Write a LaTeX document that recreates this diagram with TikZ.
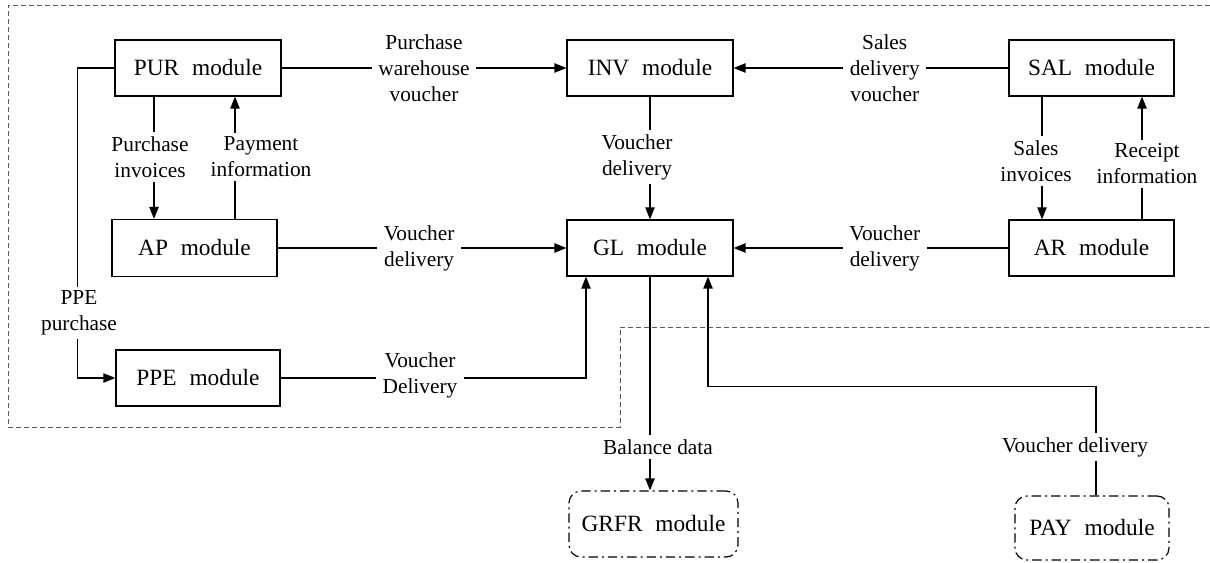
\documentclass[tikz,border=0pt]{standalone}
\usepackage{fontspec}
\setmainfont{Liberation Serif}
\usetikzlibrary{arrows.meta,calc}
\begin{document}
\begin{tikzpicture}[x=0.75pt,y=-0.75pt,
  mod/.style={draw, line width=0.9pt, minimum width=124.5pt, minimum height=42pt, inner sep=0pt, font=\fontsize{17.5}{20}\selectfont},
  ext/.style={draw, line width=0.9pt, rounded corners=9pt, dash pattern=on 7pt off 3pt on 1.5pt off 3pt, inner sep=0pt, font=\fontsize{17.5}{20}\selectfont},
  lbl/.style={fill=white, align=center, inner xsep=5pt, inner ysep=3pt, font=\fontsize{16}{19.5}\selectfont},
  conn/.style={line width=1pt},
  arr/.style={conn, -{Triangle[length=9pt,width=7pt]}},
  bound/.style={draw=black!65, line width=0.6pt, dash pattern=on 3.5pt off 2.5pt}]

\useasboundingbox (0,0) rectangle (1210,563);

% system boundary
\draw[bound] (1210,5) -- (8,5) -- (8,427) -- (620,427) -- (620,327) -- (1210,327);

% modules
\node[mod] (PUR) at (198,68) {PUR\hspace{0.55em}module};
\node[mod] (INV) at (650,68) {INV\hspace{0.55em}module};
\node[mod, minimum width=123.75pt] (SAL) at (1091.5,68) {SAL\hspace{0.55em}module};
\node[mod, minimum width=123.75pt, minimum height=42.75pt] (AP) at (194.5,248) {AP\hspace{0.55em}module};
\node[mod] (GL) at (650,248) {GL\hspace{0.55em}module};
\node[mod, minimum width=123.75pt] (AR) at (1091.5,248) {AR\hspace{0.55em}module};
\node[mod, minimum width=123pt] (PPE) at (198,378) {PPE\hspace{0.55em}module};
\node[ext, minimum width=126.75pt, minimum height=49.5pt] (GRFR) at (653.5,524) {GRFR\hspace{0.55em}module};
\node[ext, minimum width=115.5pt, minimum height=48pt] (PAY) at (1092,528) {PAY\hspace{0.55em}module};

% horizontal flows
\draw[arr] (PUR) -- (INV) node[lbl, midway] (lpw) {Purchase\\warehouse\\voucher};
\draw[arr] (SAL) -- (INV) node[lbl, pos=0.45] (lsd) {Sales\\delivery\\voucher};
\draw[arr] (AP) -- (GL) node[lbl, pos=0.49] (lap) {Voucher\\delivery};
\draw[arr] (AR) -- (GL) node[lbl, pos=0.45] (lar) {Voucher\\delivery};

% vertical flows
\coordinate (p1) at ($(PUR.south)+(-44,0)$);
\coordinate (p2) at ($(PUR.south)+(37,0)$);
\draw[arr] (p1) -- (p1 |- AP.north);
\draw[arr] (p2 |- AP.north) -- (p2);
\draw[arr] (INV) -- (GL);
\coordinate (s1) at ($(SAL.south)+(-49.5,0)$);
\coordinate (s2) at ($(SAL.south)+(50.5,0)$);
\draw[arr] (s1) -- (s1 |- AR.north);
\draw[arr] (s2 |- AR.north) -- (s2);

% PPE purchase
\draw[arr] (PUR.west) -- ++(-37,0) |- (PPE.west);

% PPE -> GL
\coordinate (g1) at ($(GL.south)+(-64,0)$);
\draw[arr] (PPE.east) -| (g1);

% GL -> GRFR
\draw[arr] (GL.south) -- (GL.south |- GRFR.north);

% PAY -> GL
\coordinate (g2) at ($(GL.south)+(58,0)$);
\draw[arr] ([xshift=3pt]PAY.north) |- ($(g2)+(0,110)$) -- (g2);

% labels
\node[lbl] (lpi) at (150,157) {Purchase\\invoices};
\node[lbl] (lpay) at (261,157) {Payment\\information};
\node[lbl] (linv) at (637,157) {Voucher\\delivery};
\node[lbl] (lsi) at (1036,161) {Sales\\invoices};
\node[lbl] (lri) at (1147,164) {Receipt\\information};
\node[lbl] (lppe) at (79,313) {PPE\\purchase};
\node[lbl] (lppd) at (420,375) {Voucher\\Delivery};
\node[lbl] (lbd) at (658,447) {Balance data};
\node[lbl] (lpay2) at (1075,447) {Voucher delivery};
\end{tikzpicture}
\end{document}
